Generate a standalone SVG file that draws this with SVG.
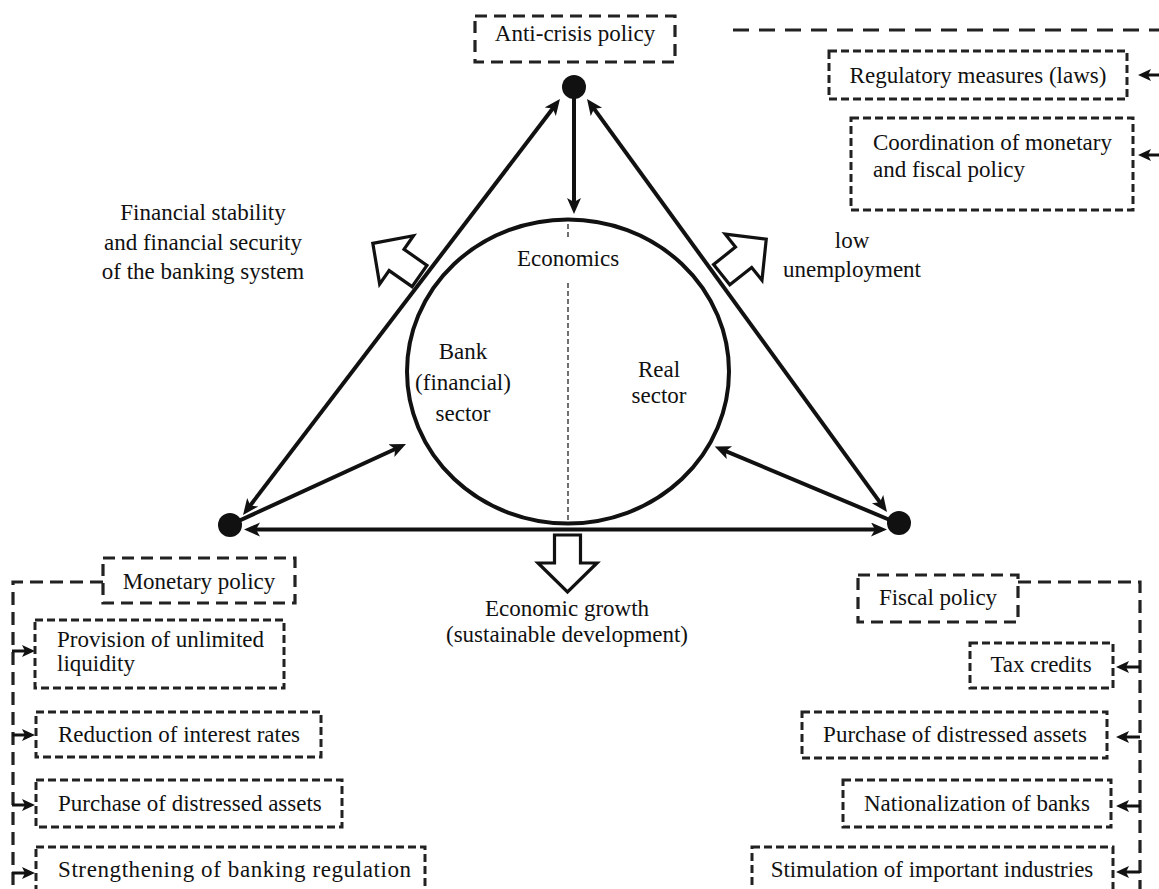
<svg xmlns="http://www.w3.org/2000/svg" width="1159" height="889" viewBox="0 0 1159 889">
<style>
text{font-family:"Liberation Serif","Times New Roman",serif;font-size:23px;fill:#111}
.m{text-anchor:middle}
.bb{fill:none;stroke:#222;stroke-width:3.2;stroke-dasharray:12 7}
.sb{fill:none;stroke:#222;stroke-width:3;stroke-dasharray:8 4}
.dl{fill:none;stroke:#222;stroke-width:3.2;stroke-dasharray:13 7}
.con{fill:none;stroke:#111;stroke-width:4}
.thin{fill:none;stroke:#111;stroke-width:3}
.blk{fill:#fff;stroke:#111;stroke-width:3.2;stroke-linejoin:miter}
</style>
<defs>
<marker id="ah" markerUnits="userSpaceOnUse" markerWidth="18" markerHeight="16" refX="6" refY="7" orient="auto-start-reverse">
<path d="M0,0 L16,7 L0,14 L4,7 z" fill="#111"/>
</marker>
<marker id="sa" markerUnits="userSpaceOnUse" markerWidth="15" markerHeight="14" refX="5" refY="6" orient="auto">
<path d="M0,0 L13,6 L0,12 L3,6 z" fill="#111"/>
</marker>
<polygon id="blockArrow" points="0,-13 28,-13 28,-29.5 57,0 28,29.5 28,13 0,13"/>
</defs>

<g id="connectors">
<line class="con" x1="249.1" y1="507" x2="553.9" y2="107" marker-start="url(#ah)" marker-end="url(#ah)"/>
<line class="con" x1="592.9" y1="107.1" x2="881.1" y2="503.9" marker-start="url(#ah)" marker-end="url(#ah)"/>
<line class="con" x1="254" y1="529.5" x2="877" y2="529.5" marker-start="url(#ah)" marker-end="url(#ah)"/>
<line class="con" x1="574" y1="98" x2="574" y2="204" marker-end="url(#ah)"/>
<line class="con" x1="232" y1="524" x2="396.9" y2="448.2" marker-end="url(#ah)"/>
<line class="con" x1="897" y1="523" x2="723.9" y2="450.3" marker-end="url(#ah)"/>
<path class="dl" d="M733,30 H1159" style="stroke-dasharray:16 10"/>
<path class="dl" d="M103,582 H13 V889"/>
<path class="dl" d="M1018,582 H1140 V889"/>
<line class="thin" x1="12" y1="651" x2="27" y2="651" marker-end="url(#sa)"/>
<line class="thin" x1="12" y1="735" x2="27" y2="735" marker-end="url(#sa)"/>
<line class="thin" x1="12" y1="805" x2="27" y2="805" marker-end="url(#sa)"/>
<line class="thin" x1="12" y1="873" x2="27" y2="873" marker-end="url(#sa)"/>
<line class="thin" x1="1140" y1="667" x2="1124" y2="667" marker-end="url(#sa)"/>
<line class="thin" x1="1140" y1="737" x2="1124" y2="737" marker-end="url(#sa)"/>
<line class="thin" x1="1140" y1="806" x2="1124" y2="806" marker-end="url(#sa)"/>
<line class="thin" x1="1140" y1="872" x2="1124" y2="872" marker-end="url(#sa)"/>
<line class="thin" x1="1159" y1="75" x2="1146" y2="75" marker-end="url(#sa)"/>
<line class="thin" x1="1159" y1="155" x2="1146" y2="155" marker-end="url(#sa)"/>
</g>

<g id="block-arrows">
<use href="#blockArrow" class="blk" transform="translate(419.5,276) rotate(215)"/>
<use href="#blockArrow" class="blk" transform="translate(721.7,274.7) rotate(-38.6)"/>
<use href="#blockArrow" class="blk" transform="translate(567.5,535) rotate(90)"/>
</g>

<g id="economics">
<ellipse cx="568" cy="371.5" rx="161" ry="152" fill="none" stroke="#111" stroke-width="4"/>
<line x1="568" y1="224" x2="568" y2="238" stroke="#222" stroke-width="1.3" stroke-dasharray="5 3"/>
<line x1="568" y1="283" x2="568" y2="521" stroke="#222" stroke-width="1.3" stroke-dasharray="5 3"/>
<text class="m" x="568" y="266">Economics</text>
</g>
<g id="bank-sector">
<text class="m" x="463" y="359">Bank</text>
<text class="m" x="463" y="390">(financial)</text>
<text class="m" x="463" y="421">sector</text>
</g>
<g id="real-sector">
<text class="m" x="659" y="377">Real</text>
<text class="m" x="659" y="403">sector</text>
</g>

<g id="node-top"><circle cx="574" cy="87" r="12" fill="#111"/></g>
<g id="node-left"><circle cx="230" cy="525" r="12" fill="#111"/></g>
<g id="node-right"><circle cx="899" cy="523" r="12" fill="#111"/></g>

<g id="label-financial-stability">
<text class="m" x="203" y="220">Financial stability</text>
<text class="m" x="203" y="250">and financial security</text>
<text class="m" x="203" y="279">of the banking system</text>
</g>
<g id="label-unemployment">
<text class="m" x="852" y="248">low</text>
<text class="m" x="852" y="277">unemployment</text>
</g>
<g id="label-growth">
<text class="m" x="567" y="616">Economic growth</text>
<text class="m" x="567" y="642">(sustainable development)</text>
</g>

<g id="anti-crisis-policy">
<rect class="bb" x="475" y="16" width="200" height="46"/>
<text class="m" x="575" y="41">Anti-crisis policy</text>
</g>
<g id="regulatory-measures">
<rect class="sb" x="829" y="51" width="298" height="48"/>
<text class="m" x="978" y="83">Regulatory measures (laws)</text>
</g>
<g id="coordination">
<rect class="sb" x="851" y="118" width="282" height="92"/>
<text x="873" y="150">Coordination of monetary</text>
<text x="873" y="177">and fiscal policy</text>
</g>

<g id="monetary-policy">
<rect class="bb" x="103" y="558" width="192" height="45"/>
<text class="m" x="199" y="589">Monetary policy</text>
</g>
<g id="provision-liquidity">
<rect class="sb" x="35" y="620" width="249" height="68"/>
<text x="57" y="647">Provision of unlimited</text>
<text x="57" y="671">liquidity</text>
</g>
<g id="reduction-rates">
<rect class="sb" x="36" y="712" width="285" height="45"/>
<text x="58" y="742">Reduction of interest rates</text>
</g>
<g id="purchase-left">
<rect class="sb" x="36" y="780" width="306" height="47"/>
<text x="58" y="811">Purchase of distressed assets</text>
</g>
<g id="strengthening">
<rect class="sb" x="36" y="847" width="389" height="60"/>
<text x="58" y="877" textLength="353" lengthAdjust="spacing">Strengthening of banking regulation</text>
</g>

<g id="fiscal-policy">
<rect class="bb" x="858" y="575" width="160" height="47"/>
<text class="m" x="938" y="605">Fiscal policy</text>
</g>
<g id="tax-credits">
<rect class="sb" x="970" y="643" width="143" height="45"/>
<text class="m" x="1041" y="672">Tax credits</text>
</g>
<g id="purchase-right">
<rect class="sb" x="802" y="712" width="305" height="46"/>
<text class="m" x="955" y="742">Purchase of distressed assets</text>
</g>
<g id="nationalization">
<rect class="sb" x="843" y="780" width="268" height="47"/>
<text class="m" x="977" y="811">Nationalization of banks</text>
</g>
<g id="stimulation">
<rect class="sb" x="752" y="847" width="361" height="60"/>
<text class="m" x="932" y="877">Stimulation of important industries</text>
</g>
</svg>
